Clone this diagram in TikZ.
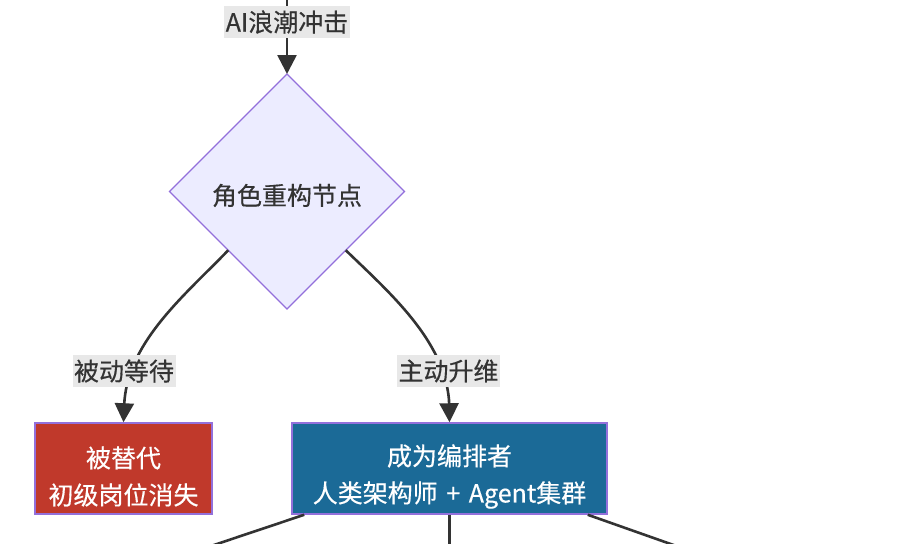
\documentclass[tikz,border=0pt]{standalone}
\usepackage{fontspec}
\setmainfont{Noto Sans CJK SC}[FakeBold=0.4]
\usetikzlibrary{shapes.geometric,arrows.meta}
\definecolor{ink}{HTML}{333333}
\definecolor{diafill}{HTML}{ECECFF}
\definecolor{diaedge}{HTML}{9370DB}
\definecolor{lblbg}{HTML}{E8E8E8}
\definecolor{redfill}{RGB}{192,57,43}
\definecolor{bluefill}{RGB}{27,106,151}
\tikzset{
  edge/.style={draw=ink, line width=2.6pt},
  arr/.style={edge, -{Triangle[length=19pt,width=19pt]}},
  lbl/.style={fill=lblbg, text=ink, font=\fontsize{25}{29}\selectfont, inner xsep=1.5pt, inner ysep=0pt, minimum height=32pt},
  boxnode/.style={draw=diaedge, line width=1.5pt, minimum height=91pt, inner sep=0pt},
  boxtext/.style={text=white, align=center, font=\fontsize{25}{37}\selectfont, inner sep=0pt},
}
\begin{document}
\begin{tikzpicture}[x=1pt,y=-1pt]
\useasboundingbox (0,0) rectangle (914,544);
\fill[white] (0,0) rectangle (914,544);
\node[diamond, draw=diaedge, fill=diafill, line width=1.2pt, minimum width=235pt, minimum height=235pt, inner sep=0pt, outer sep=0pt] (dia) at (287,191.5) {};
\node[text=ink, font=\fontsize{25}{29}\selectfont, inner sep=0pt] (diat) at ([yshift=-4pt]dia.center) {角色重构节点};
\node[boxnode, fill=redfill, minimum width=177pt] (red) at (123.5,468.5) {};
\node[boxtext] (redt) at ([yshift=-8pt]red.center) {被替代\\初级岗位消失};
\node[boxnode, fill=bluefill, minimum width=315pt] (blue) at (449.5,468.5) {};
\node[boxtext] (bluet) at ([yshift=-8pt]blue.center) {成为编排者\\人类架构师\hspace{3pt} + \hspace{3pt}Agent集群};
\coordinate (top) at (287,-2);
\coordinate (e1) at (205,548);
\coordinate (e2) at (449.5,548);
\coordinate (e3) at (682,548);
\coordinate (l1pos) at (124,371);
\coordinate (l2pos) at (448.5,371);
\coordinate (c1) at (124.5,400);
\coordinate (c2) at (449,400);
\draw[arr] (top) -- (dia.north);
\draw[arr] (dia.south west) .. controls (185,295) and (130,340) .. (c1) -- (red.north);
\draw[arr] (dia.south east) .. controls (390,293) and (444,340) .. (c2) -- (blue.north);
\draw[edge] ([xshift=13pt]blue.south west) -- (e1);
\draw[edge] (blue.south) -- (e2);
\draw[edge] ([xshift=-20pt]blue.south east) -- (e3);
\node[lbl] (l0) at (287,22) {AI浪潮冲击};
\node[lbl] (l1) at (l1pos) {被动等待};
\node[lbl] (l2) at (l2pos) {主动升维};
\end{tikzpicture}
\end{document}
